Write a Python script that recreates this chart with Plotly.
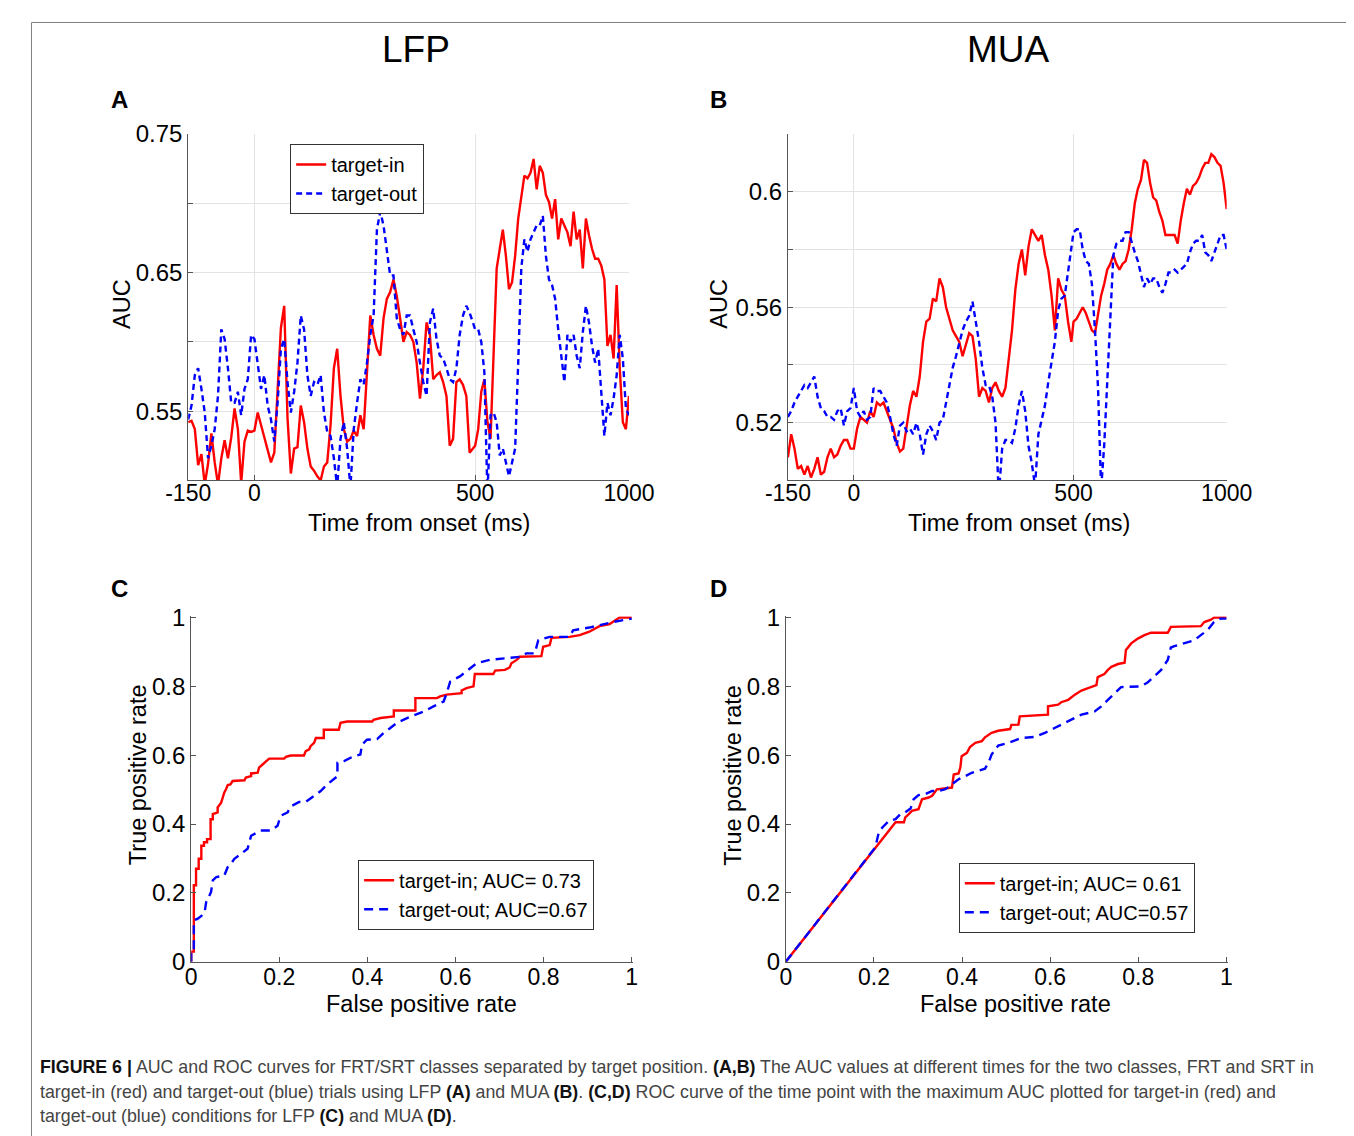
import numpy as np
import plotly.graph_objects as go

# ---------------- data ----------------
# sampling times (ms): 7.5 ms steps up to 495 ms, then 10 ms steps to 1000 ms
TIME_MS = np.concatenate([-150 + 7.5 * np.arange(87), 500 + 10 * np.arange(51)])

LFP_TARGET_IN = [
    0.542, 0.543, 0.537, 0.511, 0.519, 0.497, 0.512, 0.534, 0.513, 0.497,
    0.516, 0.529, 0.516, 0.531, 0.552, 0.537, 0.498, 0.528, 0.536, 0.535,
    0.536, 0.549, 0.540, 0.531, 0.523, 0.513, 0.520, 0.566, 0.610, 0.626,
    0.545, 0.505, 0.523, 0.524, 0.554, 0.542, 0.523, 0.510, 0.507, 0.503,
    0.500, 0.510, 0.513, 0.540, 0.581, 0.595, 0.561, 0.537, 0.528, 0.530,
    0.536, 0.532, 0.547, 0.537, 0.581, 0.619, 0.605, 0.595, 0.590, 0.617,
    0.631, 0.636, 0.645, 0.633, 0.617, 0.600, 0.607,
    0.605, 0.600, 0.585, 0.559, 0.581, 0.614, 0.605, 0.573, 0.576, 0.578,
    0.571, 0.561, 0.525, 0.530, 0.571, 0.573, 0.569, 0.561, 0.520, 0.523,
    0.525, 0.537, 0.564, 0.573, 0.542, 0.530, 0.585, 0.653, 0.667, 0.681,
    0.662, 0.638, 0.643, 0.662, 0.689, 0.706, 0.720, 0.718, 0.722, 0.732,
    0.710, 0.727, 0.722, 0.706, 0.701, 0.689, 0.703, 0.674, 0.689, 0.684,
    0.679, 0.669, 0.694, 0.674, 0.681, 0.653, 0.689, 0.677, 0.667, 0.660,
    0.660, 0.655, 0.645, 0.597, 0.605, 0.588, 0.641, 0.581, 0.542, 0.537,
    0.561,
]
LFP_TARGET_OUT = [
    0.544, 0.554, 0.576, 0.581, 0.566, 0.549, 0.516, 0.525, 0.537, 0.561,
    0.609, 0.602, 0.581, 0.556, 0.556, 0.564, 0.547, 0.566, 0.573, 0.605,
    0.602, 0.585, 0.566, 0.576, 0.554, 0.544, 0.528, 0.556, 0.595, 0.602,
    0.571, 0.549, 0.564, 0.585, 0.619, 0.609, 0.576, 0.561, 0.571, 0.569,
    0.576, 0.549, 0.535, 0.532, 0.516, 0.495, 0.530, 0.542, 0.523, 0.495,
    0.537, 0.556, 0.573, 0.569, 0.585, 0.605, 0.619, 0.681, 0.694, 0.684,
    0.667, 0.648, 0.648, 0.617, 0.609, 0.605, 0.619,
    0.619, 0.609, 0.600, 0.585, 0.571, 0.561, 0.614, 0.624, 0.602, 0.590,
    0.588, 0.581, 0.573, 0.571, 0.581, 0.605, 0.619, 0.626, 0.621, 0.614,
    0.609, 0.609, 0.600, 0.578, 0.490, 0.547, 0.549, 0.542, 0.518, 0.523,
    0.513, 0.503, 0.513, 0.523, 0.585, 0.653, 0.674, 0.665, 0.674, 0.679,
    0.684, 0.684, 0.691, 0.662, 0.645, 0.641, 0.631, 0.609, 0.590, 0.571,
    0.605, 0.600, 0.605, 0.590, 0.581, 0.607, 0.626, 0.614, 0.597, 0.585,
    0.595, 0.566, 0.532, 0.556, 0.547, 0.559, 0.576, 0.605, 0.588, 0.552,
    0.547,
]
MUA_TARGET_IN = [
    0.508, 0.516, 0.511, 0.504, 0.505, 0.502, 0.505, 0.501, 0.504, 0.508,
    0.502, 0.503, 0.508, 0.511, 0.508, 0.509, 0.512, 0.514, 0.514, 0.511,
    0.511, 0.518, 0.522, 0.521, 0.520, 0.524, 0.522, 0.527, 0.526, 0.527,
    0.524, 0.521, 0.518, 0.513, 0.510, 0.511, 0.518, 0.526, 0.531, 0.529,
    0.536, 0.548, 0.555, 0.556, 0.563, 0.562, 0.570, 0.567, 0.560, 0.556,
    0.552, 0.550, 0.548, 0.543, 0.547, 0.551, 0.550, 0.542, 0.529, 0.532,
    0.531, 0.527, 0.532, 0.534, 0.531, 0.529, 0.532,
    0.543, 0.552, 0.566, 0.575, 0.580, 0.571, 0.581, 0.587, 0.585, 0.583,
    0.585, 0.578, 0.573, 0.564, 0.552, 0.570, 0.566, 0.564, 0.555, 0.548,
    0.555, 0.556, 0.558, 0.560, 0.558, 0.555, 0.552, 0.551, 0.557, 0.564,
    0.568, 0.573, 0.575, 0.578, 0.575, 0.573, 0.575, 0.576, 0.580, 0.587,
    0.596, 0.601, 0.604, 0.611, 0.610, 0.603, 0.598, 0.597, 0.593, 0.590,
    0.585, 0.585, 0.585, 0.585, 0.582, 0.590, 0.596, 0.601, 0.599, 0.602,
    0.603, 0.605, 0.608, 0.610, 0.610, 0.613, 0.612, 0.610, 0.609, 0.603,
    0.594,
]
MUA_TARGET_OUT = [
    0.522, 0.524, 0.527, 0.529, 0.531, 0.533, 0.532, 0.534, 0.536, 0.529,
    0.525, 0.524, 0.522, 0.522, 0.521, 0.524, 0.525, 0.519, 0.524, 0.525,
    0.532, 0.524, 0.522, 0.524, 0.521, 0.522, 0.532, 0.531, 0.531, 0.529,
    0.527, 0.522, 0.516, 0.512, 0.519, 0.520, 0.517, 0.518, 0.516, 0.520,
    0.516, 0.509, 0.516, 0.519, 0.517, 0.514, 0.520, 0.521, 0.527, 0.534,
    0.539, 0.543, 0.548, 0.552, 0.555, 0.557, 0.562, 0.555, 0.548, 0.539,
    0.533, 0.533, 0.529, 0.520, 0.495, 0.511, 0.514,
    0.514, 0.513, 0.518, 0.526, 0.531, 0.524, 0.512, 0.506, 0.498, 0.516,
    0.521, 0.526, 0.534, 0.541, 0.548, 0.559, 0.563, 0.564, 0.572, 0.581,
    0.586, 0.587, 0.587, 0.580, 0.576, 0.575, 0.568, 0.552, 0.532, 0.497,
    0.512, 0.534, 0.558, 0.578, 0.582, 0.583, 0.583, 0.586, 0.586, 0.582,
    0.579, 0.576, 0.571, 0.567, 0.570, 0.568, 0.570, 0.570, 0.567, 0.565,
    0.568, 0.572, 0.572, 0.573, 0.572, 0.573, 0.574, 0.575, 0.579, 0.582,
    0.583, 0.583, 0.585, 0.579, 0.578, 0.576, 0.579, 0.582, 0.585, 0.585,
    0.580,
]

# ROC curves: (false positive rate, true positive rate)
ROC_LFP_IN = [
    (0, 0), (0, 0.029), (0.006, 0.029), (0.006, 0.222), (0.011, 0.222), (0.011, 0.270),
    (0.017, 0.270), (0.017, 0.299), (0.023, 0.299), (0.023, 0.337), (0.029, 0.337),
    (0.029, 0.347), (0.036, 0.347), (0.036, 0.356), (0.044, 0.356), (0.044, 0.414),
    (0.049, 0.414), (0.049, 0.429), (0.060, 0.434), (0.060, 0.448), (0.068, 0.462),
    (0.072, 0.482), (0.075, 0.491), (0.079, 0.501), (0.083, 0.513), (0.089, 0.515),
    (0.094, 0.525), (0.121, 0.527), (0.124, 0.535), (0.136, 0.539), (0.136, 0.547),
    (0.151, 0.549), (0.154, 0.564), (0.162, 0.573), (0.170, 0.583), (0.177, 0.590),
    (0.211, 0.590), (0.215, 0.595), (0.226, 0.599), (0.256, 0.599), (0.260, 0.612),
    (0.268, 0.617), (0.271, 0.626), (0.279, 0.636), (0.283, 0.650), (0.301, 0.650),
    (0.301, 0.674), (0.335, 0.674), (0.339, 0.694), (0.354, 0.698), (0.411, 0.698),
    (0.414, 0.703), (0.430, 0.708), (0.460, 0.713), (0.460, 0.730), (0.509, 0.730),
    (0.509, 0.766), (0.558, 0.766), (0.565, 0.771), (0.580, 0.776), (0.614, 0.780),
    (0.614, 0.788), (0.625, 0.795), (0.641, 0.800), (0.644, 0.836), (0.686, 0.836),
    (0.690, 0.846), (0.712, 0.848), (0.723, 0.855), (0.727, 0.867), (0.739, 0.877),
    (0.746, 0.886), (0.795, 0.888), (0.799, 0.915), (0.814, 0.920), (0.818, 0.941),
    (0.859, 0.944), (0.882, 0.949), (0.904, 0.959), (0.919, 0.968), (0.927, 0.975),
    (0.950, 0.981), (0.972, 1.0), (1.0, 1.0),
]
ROC_LFP_OUT = [
    (0, 0), (0, 0.029), (0.006, 0.029), (0.006, 0.120), (0.015, 0.125), (0.030, 0.140),
    (0.034, 0.173), (0.045, 0.202), (0.049, 0.236), (0.057, 0.246), (0.075, 0.250),
    (0.083, 0.275), (0.090, 0.284), (0.098, 0.299), (0.113, 0.313), (0.128, 0.328),
    (0.136, 0.366), (0.158, 0.381), (0.181, 0.381), (0.196, 0.395), (0.203, 0.424),
    (0.219, 0.434), (0.226, 0.451), (0.245, 0.464), (0.260, 0.464), (0.279, 0.482),
    (0.294, 0.496), (0.309, 0.515), (0.332, 0.539), (0.332, 0.578), (0.347, 0.583),
    (0.369, 0.597), (0.384, 0.602), (0.388, 0.631), (0.399, 0.645), (0.422, 0.647),
    (0.437, 0.665), (0.452, 0.679), (0.467, 0.694), (0.490, 0.708), (0.505, 0.715),
    (0.528, 0.727), (0.550, 0.742), (0.573, 0.756), (0.580, 0.780), (0.588, 0.814),
    (0.610, 0.829), (0.625, 0.843), (0.648, 0.867), (0.678, 0.877), (0.716, 0.882),
    (0.746, 0.886), (0.761, 0.896), (0.780, 0.896), (0.788, 0.934), (0.814, 0.944),
    (0.859, 0.944), (0.867, 0.963), (0.904, 0.971), (0.934, 0.981), (0.957, 0.987),
    (0.987, 0.994), (1.0, 0.997),
]
ROC_MUA_IN = [
    (0, 0), (0.203, 0.332), (0.249, 0.405), (0.268, 0.405), (0.271, 0.419), (0.279, 0.429),
    (0.286, 0.438), (0.301, 0.443), (0.309, 0.472), (0.324, 0.477), (0.332, 0.482),
    (0.343, 0.501), (0.377, 0.506), (0.381, 0.544), (0.392, 0.547), (0.396, 0.564),
    (0.399, 0.597), (0.411, 0.607), (0.418, 0.624), (0.430, 0.636), (0.445, 0.641),
    (0.452, 0.652), (0.467, 0.665), (0.482, 0.671), (0.497, 0.674), (0.509, 0.676),
    (0.512, 0.688), (0.528, 0.689), (0.531, 0.713), (0.595, 0.718), (0.595, 0.742),
    (0.618, 0.747), (0.625, 0.754), (0.641, 0.761), (0.656, 0.776), (0.671, 0.788),
    (0.686, 0.795), (0.705, 0.804), (0.708, 0.827), (0.723, 0.836), (0.731, 0.848),
    (0.739, 0.857), (0.754, 0.865), (0.769, 0.869), (0.772, 0.906), (0.784, 0.925),
    (0.799, 0.939), (0.814, 0.949), (0.829, 0.956), (0.867, 0.956), (0.874, 0.973),
    (0.942, 0.975), (0.950, 0.987), (0.965, 0.994), (0.972, 1.0), (1.0, 1.0),
]
ROC_MUA_OUT = [
    (0, 0), (0.203, 0.332), (0.211, 0.376), (0.219, 0.390), (0.234, 0.409), (0.249, 0.414),
    (0.260, 0.429), (0.271, 0.434), (0.283, 0.445), (0.290, 0.472), (0.301, 0.484),
    (0.317, 0.487), (0.332, 0.496), (0.347, 0.496), (0.362, 0.501), (0.377, 0.515),
    (0.392, 0.530), (0.407, 0.539), (0.422, 0.549), (0.452, 0.561), (0.460, 0.578),
    (0.467, 0.602), (0.482, 0.628), (0.505, 0.636), (0.520, 0.644), (0.535, 0.650),
    (0.565, 0.653), (0.588, 0.665), (0.610, 0.679), (0.633, 0.694), (0.656, 0.708),
    (0.671, 0.718), (0.701, 0.727), (0.716, 0.742), (0.731, 0.761), (0.746, 0.780),
    (0.761, 0.798), (0.806, 0.800), (0.821, 0.811), (0.837, 0.830), (0.852, 0.848),
    (0.867, 0.877), (0.874, 0.913), (0.882, 0.917), (0.904, 0.925), (0.927, 0.934),
    (0.942, 0.949), (0.957, 0.963), (0.972, 0.987), (0.987, 0.997), (1.0, 0.997),
]

TIME_TICKS = [-150, 0, 500, 1000]
LFP_Y_TICKS = [0.50, 0.55, 0.60, 0.65, 0.70, 0.75]
LFP_Y_LABELS = ["", "0.55", "", "0.65", "", "0.75"]
MUA_Y_TICKS = [0.50, 0.52, 0.54, 0.56, 0.58, 0.60, 0.62]
MUA_Y_LABELS = ["", "0.52", "", "0.56", "", "0.6", ""]
ROC_TICKS = [0, 0.2, 0.4, 0.6, 0.8, 1.0]
ROC_LABELS = ["0", "0.2", "0.4", "0.6", "0.8", "1"]

# ---------------- layout helpers ----------------
# Positions below are given in the target picture's pixels; they are converted
# into figure fractions, allowing for the page margin and the way the page is
# photographed.
FW, FH = 1381, 1144
PAGE_MARGIN = 8
SX, SY, OX, OY = 0.965, 0.978, 22.0, 10.0
FONT = "Liberation Sans, Arial, Helvetica, sans-serif"
RED = "#ff0000"
BLUE = "#0000ff"


def fx(p):
    return ((p - OX) / SX - PAGE_MARGIN) / FW


def fy(p):
    return 1 - ((p - OY) / SY - PAGE_MARGIN) / FH


def time_axis(t):
    # the original time axis is drawn compressed after 500 ms
    t = np.asarray(t, dtype=float)
    return np.where(t <= 500, t, 500 + (t - 500) * 0.697)


def unzip(pairs):
    return [p[0] for p in pairs], [p[1] for p in pairs]


LW = 2.4
fig = go.Figure()

# Panel A (LFP AUC)
fig.add_trace(go.Scatter(x=time_axis(TIME_MS), y=LFP_TARGET_IN, mode="lines", name="target-in",
                         line=dict(color=RED, width=LW), xaxis="x", yaxis="y", legend="legend"))
fig.add_trace(go.Scatter(x=time_axis(TIME_MS), y=LFP_TARGET_OUT, mode="lines", name="target-out",
                         line=dict(color=BLUE, width=LW, dash="6px,4px"), xaxis="x", yaxis="y",
                         legend="legend"))
# Panel B (MUA AUC)
fig.add_trace(go.Scatter(x=time_axis(TIME_MS), y=MUA_TARGET_IN, mode="lines", showlegend=False,
                         line=dict(color=RED, width=LW), xaxis="x2", yaxis="y2"))
fig.add_trace(go.Scatter(x=time_axis(TIME_MS), y=MUA_TARGET_OUT, mode="lines", showlegend=False,
                         line=dict(color=BLUE, width=LW, dash="6px,4px"), xaxis="x2", yaxis="y2"))
# Panel C (LFP ROC)
xr, yr = unzip(ROC_LFP_IN)
xb, yb = unzip(ROC_LFP_OUT)
fig.add_trace(go.Scatter(x=xr, y=yr, mode="lines", name="target-in; AUC= 0.73",
                         line=dict(color=RED, width=LW), xaxis="x3", yaxis="y3", legend="legend2"))
fig.add_trace(go.Scatter(x=xb, y=yb, mode="lines", name="target-out; AUC=0.67",
                         line=dict(color=BLUE, width=LW, dash="9px,6px"), xaxis="x3", yaxis="y3",
                         legend="legend2"))
# Panel D (MUA ROC)
xr, yr = unzip(ROC_MUA_IN)
xb, yb = unzip(ROC_MUA_OUT)
fig.add_trace(go.Scatter(x=xr, y=yr, mode="lines", name="target-in; AUC= 0.61",
                         line=dict(color=RED, width=LW), xaxis="x4", yaxis="y4", legend="legend3"))
fig.add_trace(go.Scatter(x=xb, y=yb, mode="lines", name="target-out; AUC=0.57",
                         line=dict(color=BLUE, width=LW, dash="9px,6px"), xaxis="x4", yaxis="y4",
                         legend="legend3"))

AX = dict(showline=True, linecolor="#555555", linewidth=1, ticks="inside", ticklen=5,
          tickcolor="#555555", tickfont=dict(size=24, color="#000000", family=FONT),
          zeroline=False, mirror=False)
XAX_T = dict(AX, ticklabelstandoff=-8, tickfont=dict(size=23, color="#000000", family=FONT))
XAX_R = dict(AX, ticklabelstandoff=-5, tickfont=dict(size=23, color="#000000", family=FONT))
GRID = dict(showgrid=True, gridcolor="#e3e3e3", gridwidth=1)
NOGRID = dict(showgrid=False)

t_range = [float(time_axis(-150)), float(time_axis(1000))]
t_vals = [float(v) for v in time_axis(TIME_TICKS)]
t_text = [str(v) for v in TIME_TICKS]

fig.update_layout(
    xaxis=dict(domain=[fx(187), fx(628)], range=t_range, tickvals=t_vals, ticktext=t_text,
               anchor="y", **XAX_T, **GRID),
    yaxis=dict(domain=[fy(477), fy(130)], range=[0.5, 0.75], tickvals=LFP_Y_TICKS,
               ticktext=LFP_Y_LABELS, anchor="x", **AX, **GRID),
    xaxis2=dict(domain=[fx(787), fx(1226)], range=t_range, tickvals=t_vals, ticktext=t_text,
                anchor="y2", **XAX_T, **GRID),
    yaxis2=dict(domain=[fy(477), fy(130)], range=[0.5, 0.62], tickvals=MUA_Y_TICKS,
                ticktext=MUA_Y_LABELS, anchor="x2", **AX, **GRID),
    xaxis3=dict(domain=[fx(190), fx(632)], range=[0, 1.003], tickvals=ROC_TICKS,
                ticktext=ROC_LABELS, anchor="y3", **XAX_R, **NOGRID),
    yaxis3=dict(domain=[fy(959), fy(613)], range=[0, 1.004], tickvals=ROC_TICKS,
                ticktext=ROC_LABELS, anchor="x3", **AX, **NOGRID),
    xaxis4=dict(domain=[fx(785), fx(1227)], range=[0, 1.003], tickvals=ROC_TICKS,
                ticktext=ROC_LABELS, anchor="y4", **XAX_R, **NOGRID),
    yaxis4=dict(domain=[fy(959), fy(613)], range=[0, 1.004], tickvals=ROC_TICKS,
                ticktext=ROC_LABELS, anchor="x4", **AX, **NOGRID),
)

LEG = dict(xanchor="left", yanchor="top", bordercolor="#333333", borderwidth=1, bgcolor="white",
           font=dict(size=20, family=FONT, color="#000000"), tracegroupgap=0, itemwidth=30)
fig.update_layout(
    legend=dict(x=fx(289), y=fy(140), **LEG),
    legend2=dict(x=fx(357), y=fy(857), **LEG),
    legend3=dict(x=fx(958), y=fy(860), **LEG),
)

ann = []


def text(x, y, s, size, bold=False, angle=0, color="#000000", xanchor="center"):
    ann.append(dict(x=fx(x), y=fy(y), xref="paper", yref="paper", text=(f"<b>{s}</b>" if bold else s),
                    showarrow=False, textangle=angle, xanchor=xanchor, yanchor="middle",
                    font=dict(size=size, family=FONT, color=color)))


text(415, 45, "LFP", 37)
text(1008, 45, "MUA", 37)
text(118, 95, "A", 24, bold=True)
text(718, 95, "B", 24, bold=True)
text(118, 585, "C", 24, bold=True)
text(718, 585, "D", 24, bold=True)
text(418, 520, "Time from onset (ms)", 23.5)
text(1018, 520, "Time from onset (ms)", 23.5)
text(120, 300, "AUC", 23.5, angle=-90)
text(718, 300, "AUC", 23.5, angle=-90)
text(420, 1001, "False positive rate", 23.5)
text(1015, 1001, "False positive rate", 23.5)
text(137, 772, "True positive rate", 23.5, angle=-90)
text(732, 772, "True positive rate", 23.5, angle=-90)

B = '<span style="color:#111111"><b>{}</b></span>'
cap1 = (B.format("FIGURE 6 |") + " AUC and ROC curves for FRT/SRT classes separated by target position. "
        + B.format("(A,B)") + " The AUC values at different times for the two classes, FRT and SRT in")
cap2 = ("target-in (red) and target-out (blue) trials using LFP " + B.format("(A)") + " and MUA "
        + B.format("(B)") + ". " + B.format("(C,D)")
        + " ROC curve of the time point with the maximum AUC plotted for target-in (red) and")
cap3 = "target-out (blue) conditions for LFP " + B.format("(C)") + " and MUA " + B.format("(D)") + "."
text(37, 1065, cap1, 17.8, color="#444444", xanchor="left")
text(37, 1090, cap2, 17.8, color="#444444", xanchor="left")
text(37, 1114, cap3, 17.8, color="#444444", xanchor="left")

BORDER = dict(color="#808080", width=1)
x_left = max(fx(8), 0.5 / FW)
x_right = fx(1348)
y_top = min(fy(7), 1 - 0.5 / FH)
shapes = [
    dict(type="line", xref="paper", yref="paper", x0=x_left, y0=0, x1=x_left, y1=y_top, line=BORDER),
    dict(type="line", xref="paper", yref="paper", x0=x_left, y0=y_top, x1=x_right, y1=y_top, line=BORDER),
    dict(type="line", xref="paper", yref="paper", x0=x_right, y0=y_top, x1=x_right, y1=0, line=BORDER),
]

fig.update_layout(
    width=FW, height=FH, margin=dict(l=0, r=0, t=0, b=0),
    paper_bgcolor="white", plot_bgcolor="white",
    font=dict(family=FONT, color="#000000"),
    annotations=ann, shapes=shapes,
)

fig.write_html("out.html")
